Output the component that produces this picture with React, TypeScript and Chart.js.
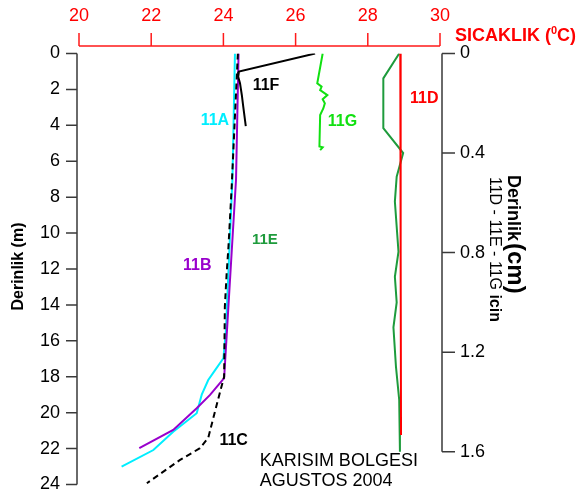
import React, { useEffect, useRef } from "react";
import { Chart, registerables } from "chart.js";

Chart.register(...registerables);

const FONT = "'Liberation Sans', Arial, Helvetica, sans-serif";

// Tick values
const tempTicks = [20, 22, 24, 26, 28, 30];
const depthTicksM = [0, 2, 4, 6, 8, 10, 12, 14, 16, 18, 20, 22, 24];
const depthTicksCm = [0, 0.4, 0.8, 1.2, 1.6];

// Series (temperature °C, depth m) — left axis
const t11A = [24.32, 24.25, 24.07, 24.0, 23.78, 23.58, 23.4, 23.26, 22.61, 22.06, 21.18];
const d11A = [0, 7, 15.4, 16.97, 17.6, 18.18, 19.0, 20.03, 21.06, 22.08, 23.0];

const t11B = [24.42, 24.35, 24.1, 24.02, 23.63, 23.26, 22.61, 21.67];
const d11B = [0, 7, 15.4, 18.08, 19.01, 19.75, 20.96, 21.98];

const t11C = [24.4, 24.23, 24.14, 24.09, 24.04, 24.02, 23.9, 23.72, 23.58, 23.35, 22.8, 21.88];
const d11C = [0, 7.4, 10.76, 12.24, 14.1, 18.0, 18.9, 20.3, 21.4, 21.98, 22.63, 23.93];

const t11F = [26.54, 24.43, 24.41, 24.46, 24.51, 24.55, 24.62];
const d11F = [0, 1.01, 1.29, 1.66, 2.31, 2.96, 4.04];

// Series (temperature °C, depth cm) — right axis
const t11G = [26.75, 26.6, 26.72, 26.68, 26.88, 26.75, 26.81, 26.77, 26.68, 26.66, 26.75, 26.68];
const c11G = [0, 0.12, 0.133, 0.147, 0.167, 0.184, 0.2, 0.22, 0.247, 0.374, 0.377, 0.388];

const t11E = [28.87, 28.43, 28.43, 28.98, 28.8, 28.75, 28.85, 28.75, 28.8, 28.71, 28.78, 28.87, 28.89, 28.89];
const c11E = [0, 0.1, 0.3, 0.4, 0.495, 0.595, 0.796, 0.897, 1.0, 1.1, 1.258, 1.392, 1.54, 1.6];

const t11D = [28.9, 28.91, 28.92];
const c11D = [0, 0.8, 1.533];

// Series labels: text, temperature, depth (m), colour, size
const labelTexts = ["11F", "11A", "11G", "11D", "11E", "11B", "11C"];
const labelTemps = [24.81, 23.37, 26.89, 29.17, 24.79, 22.88, 23.89];
const labelDepths = [2.03, 3.98, 4.04, 2.74, 10.61, 12.05, 21.8];
const labelColors = ["#000000", "#00eeff", "#11e011", "#ff0000", "#1e9b3c", "#9900cc", "#000000"];
const labelSizes = [16, 16, 16, 16, 15, 16, 16];

const COL_A = "#00eeff";
const COL_B = "#9900cc";
const COL_G = "#11e011";
const COL_E = "#1e9b3c";
const COL_D = "#ff0000";

const axesPlugin = {
  id: "customAxes",
  afterDraw(chart: any) {
    const { ctx, chartArea } = chart;
    const x = chart.scales.x;
    const y = chart.scales.y;
    const y2 = chart.scales.y2;
    ctx.save();
    // left axis
    ctx.strokeStyle = "#3a3a3a";
    ctx.lineWidth = 1.5;
    const lx = chartArea.left - 2;
    ctx.beginPath();
    ctx.moveTo(lx, y.getPixelForValue(0));
    ctx.lineTo(lx, y.getPixelForValue(24));
    depthTicksM.forEach((v) => {
      const py = y.getPixelForValue(v);
      ctx.moveTo(lx - 11, py);
      ctx.lineTo(lx, py);
    });
    ctx.stroke();
    // right axis
    const rx = chartArea.right + 2;
    ctx.beginPath();
    ctx.moveTo(rx, y2.getPixelForValue(0));
    ctx.lineTo(rx, y2.getPixelForValue(1.6));
    depthTicksCm.forEach((v) => {
      const py = y2.getPixelForValue(v);
      ctx.moveTo(rx, py);
      ctx.lineTo(rx + 13, py);
    });
    ctx.stroke();
    // top axis
    ctx.strokeStyle = "#ff1a1a";
    const ty = chartArea.top - 7.5;
    ctx.beginPath();
    ctx.moveTo(x.getPixelForValue(20), ty);
    ctx.lineTo(x.getPixelForValue(30), ty);
    tempTicks.forEach((v) => {
      const px = x.getPixelForValue(v);
      ctx.moveTo(px, ty);
      ctx.lineTo(px, ty - 13);
    });
    ctx.stroke();

    // top axis title
    ctx.fillStyle = "#ff0000";
    ctx.font = `bold 18px ${FONT}`;
    ctx.textAlign = "left";
    ctx.textBaseline = "alphabetic";
    const tx = chartArea.right + 15;
    const tb = 41;
    ctx.fillText("SICAKLIK (", tx, tb);
    let w = ctx.measureText("SICAKLIK (").width;
    ctx.font = `bold 11px ${FONT}`;
    ctx.fillText("0", tx + w, tb - 7);
    const w2 = ctx.measureText("0").width;
    ctx.font = `bold 18px ${FONT}`;
    ctx.fillText("C)", tx + w + w2, tb);

    // left title
    ctx.save();
    ctx.fillStyle = "#000";
    ctx.translate(18.5, 266.5);
    ctx.rotate(-Math.PI / 2);
    ctx.font = `bold 16px ${FONT}`;
    ctx.textAlign = "center";
    ctx.textBaseline = "middle";
    ctx.fillText("Derinlik (m)", 0, 0);
    ctx.restore();

    // right title line 1
    ctx.save();
    ctx.fillStyle = "#000";
    ctx.translate(508, 175);
    ctx.rotate(Math.PI / 2);
    ctx.textAlign = "left";
    ctx.textBaseline = "alphabetic";
    ctx.font = `bold 18px ${FONT}`;
    ctx.fillText("Derinlik", 0, 0);
    w = ctx.measureText("Derinlik").width;
    ctx.font = `bold 24px ${FONT}`;
    ctx.fillText("(cm)", w + 2, 0);
    ctx.restore();

    // right title line 2
    ctx.save();
    ctx.fillStyle = "#000";
    ctx.translate(490, 177);
    ctx.rotate(Math.PI / 2);
    ctx.textAlign = "left";
    ctx.textBaseline = "alphabetic";
    ctx.font = `16px ${FONT}`;
    ctx.fillText("11D - 11E - 11G ", 0, 0);
    w = ctx.measureText("11D - 11E - 11G ").width;
    ctx.font = `bold 16px ${FONT}`;
    ctx.fillText("icin", w, 0);
    ctx.restore();

    // series labels
    labelTexts.forEach((t, i) => {
      ctx.fillStyle = labelColors[i];
      ctx.font = `bold ${labelSizes[i]}px ${FONT}`;
      ctx.textAlign = "left";
      ctx.textBaseline = "alphabetic";
      ctx.fillText(t, x.getPixelForValue(labelTemps[i]), y.getPixelForValue(labelDepths[i]));
    });

    // note
    ctx.fillStyle = "#000";
    ctx.font = `18px ${FONT}`;
    ctx.fillText("KARISIM BOLGESI", x.getPixelForValue(25.01), y.getPixelForValue(22.95));
    ctx.fillText("AGUSTOS 2004", x.getPixelForValue(25.01), y.getPixelForValue(24.1));
    ctx.restore();
  },
};

function mk(label: string, T: number[], D: number[], color: string, yAxisID: string, extra: any = {}) {
  return {
    label,
    data: T.map((t, i) => ({ x: t, y: D[i] })),
    borderColor: color,
    backgroundColor: color,
    borderWidth: 2,
    pointRadius: 0,
    showLine: true,
    tension: 0,
    fill: false,
    yAxisID,
    ...extra,
  };
}

export default function App() {
  const ref = useRef<HTMLCanvasElement>(null);
  useEffect(() => {
    if (!ref.current) return;
    Chart.defaults.font.family = FONT;
    const chart = new Chart(ref.current, {
      type: "scatter",
      data: {
        datasets: [
          mk("11F", t11F, d11F, "#000000", "y"),
          mk("11C", t11C, d11C, "#000000", "y", { borderDash: [6, 4] }),
          mk("11B", t11B, d11B, COL_B, "y"),
          mk("11A", t11A, d11A, COL_A, "y"),
          mk("11D", t11D, c11D, COL_D, "y2"),
          mk("11E", t11E, c11E, COL_E, "y2"),
          mk("11G", t11G, c11G, COL_G, "y2"),
        ] as any,
      },
      options: {
        animation: false,
        responsive: false,
        devicePixelRatio: 1,
        layout: { padding: { left: 0, right: 0, top: 0, bottom: 12.5 } },
        plugins: { legend: { display: false }, tooltip: { enabled: false } },
        scales: {
          x: {
            type: "linear",
            position: "top",
            min: 20,
            max: 30,
            afterBuildTicks: (s: any) => {
              s.ticks = tempTicks.map((v) => ({ value: v }));
            },
            ticks: { color: "#ff0000", font: { size: 18 }, padding: 7, autoSkip: false, maxRotation: 0 },
            grid: { display: true, drawOnChartArea: false, color: "rgba(0,0,0,0)", tickLength: 20 },
            border: { display: false },
            afterFit: (s: any) => {
              s.height = 53.5;
              s.paddingLeft = 0;
              s.paddingRight = 0;
            },
          },
          y: {
            type: "linear",
            position: "left",
            reverse: true,
            min: 0,
            max: 24,
            afterBuildTicks: (s: any) => {
              s.ticks = depthTicksM.map((v) => ({ value: v }));
            },
            ticks: { color: "#000", font: { size: 18 }, padding: 8, autoSkip: false },
            grid: { display: true, drawOnChartArea: false, color: "rgba(0,0,0,0)", tickLength: 11 },
            border: { display: false },
            afterFit: (s: any) => {
              s.width = 79;
              s.paddingTop = 0;
              s.paddingBottom = 0;
            },
          },
          y2: {
            type: "linear",
            position: "right",
            reverse: true,
            min: 0,
            max: 1.7318,
            afterBuildTicks: (s: any) => {
              s.ticks = depthTicksCm.map((v) => ({ value: v }));
            },
            ticks: {
              color: "#000",
              font: { size: 18 },
              padding: 5,
              autoSkip: false,
              callback: (v: any) => (Number(v) === 0 ? "0" : Number(v).toFixed(1)),
            },
            grid: { display: true, drawOnChartArea: false, color: "rgba(0,0,0,0)", tickLength: 15 },
            border: { display: false },
            afterFit: (s: any) => {
              s.width = 139;
              s.paddingTop = 0;
              s.paddingBottom = 0;
            },
          },
        },
      } as any,
      plugins: [axesPlugin],
    });
    return () => chart.destroy();
  }, []);
  return (
    <div style={{ position: "absolute", left: 0, top: 0, width: 579, height: 497, background: "#fff" }}>
      <canvas ref={ref} width={579} height={497} style={{ display: "block" }} />
    </div>
  );
}
